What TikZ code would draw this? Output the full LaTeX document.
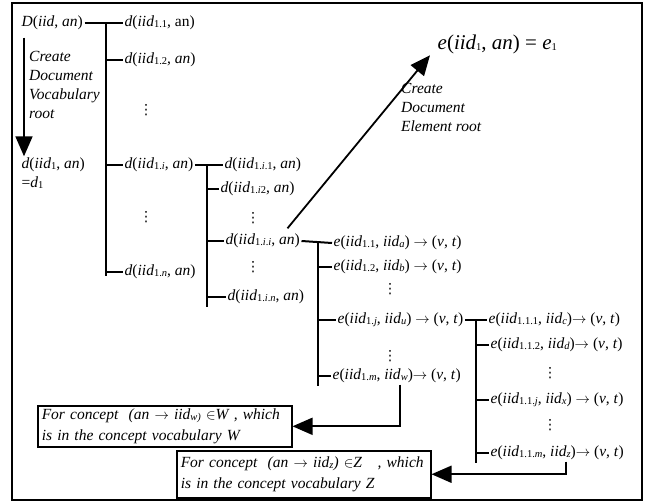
\documentclass[tikz,border=0pt]{standalone}
\usepackage{fontspec}
\setmainfont{Liberation Serif}
\newfontfamily\symfont{DejaVu Sans}
\usetikzlibrary{arrows.meta}
% italic variable and small lowered index
\newcommand\iv[1]{\textit{#1}}
\newcommand\sbx[1]{\raisebox{-1.2pt}{\fontsize{10.5}{10.5}\selectfont #1}}
\newcommand\rarr{\ensuremath{\rightarrow}}
\newcommand\vdotsym{{\symfont ⋮}}

\begin{document}
\begin{tikzpicture}[x=1pt,y=-1pt,
  lbl/.style={anchor=west, inner sep=1.5pt, text height=10.5pt, text depth=3.5pt,
              font=\fontsize{15.5}{18}\selectfont},
  note/.style={anchor=north west, align=left, inner sep=0pt,
               font=\fontsize{15.5}{19}\selectfont\itshape},
  vdot/.style={inner sep=0pt, font=\fontsize{14}{14}\selectfont},
  tree/.style={line width=2pt},
  bigarrow/.style={line width=1.8pt, -{Triangle[length=20pt,width=17pt]}},
  conceptbox/.style={draw, line width=1.5pt, anchor=north west, align=left,
                     inner xsep=4pt, inner ysep=3pt,
                     font=\fontsize{15.5}{21}\selectfont\itshape}
]
\useasboundingbox (0,0) rectangle (647,502);
\draw[line width=2pt] (12,3) rectangle (642,500);

% x positions of the tree trunks and vertical arrows
\coordinate (t1) at (106,0);
\coordinate (t2) at (207,0);
\coordinate (t3) at (318,0);
\coordinate (t4) at (476,0);
\coordinate (a0) at (24,0);
\coordinate (aw) at (400,0);
\coordinate (az) at (566,0);

% document vocabulary root
\node[lbl] (D)  at (20,23)  {\iv{D}(\iv{iid}, \iv{an})};
\node[lbl] (d1) at (20,165) {\iv{d}(\iv{iid}\sbx{1}, \iv{an})};
\node[lbl] (d1eq) at (20,184) {=\iv{d}\sbx{1}};
\node[note] (cv) at (29,51) {Create\\Document\\Vocabulary\\root};

% first level
\node[lbl] (c11) at (123,23)  {\iv{d}(\iv{iid}\sbx{1.1}, an)};
\node[lbl] (c12) at (123,60)  {\iv{d}(\iv{iid}\sbx{1.2}, \iv{an})};
\node[vdot] (v1) at (146,110) {\vdotsym};
\node[lbl] (c1i) at (123,165) {\iv{d}(\iv{iid}\sbx{1.\iv{i}}, \iv{an})};
\node[vdot] (v2) at (146,217) {\vdotsym};
\node[lbl] (c1n) at (123,272) {\iv{d}(\iv{iid}\sbx{1.\iv{n}}, \iv{an})};

% second level
\node[lbl] (c1i1) at (223,165) {\iv{d}(\iv{iid}\sbx{1.\iv{i}.1}, \iv{an})};
\node[lbl] (c1i2) at (219,189) {\iv{d}(\iv{iid}\sbx{1.\iv{i}2}, \iv{an})};
\node[vdot] (v3) at (253,218) {\vdotsym};
\node[lbl] (c1ii) at (224,241) {\iv{d}(\iv{iid}\sbx{1.\iv{i}.\iv{i}}, \iv{an})};
\node[vdot] (v4) at (253,267) {\vdotsym};
\node[lbl] (c1in) at (226,297) {\iv{d}(\iv{iid}\sbx{1.\iv{i}.\iv{n}}, \iv{an})};

% element root
\node[anchor=west, inner sep=1.5pt, font=\fontsize{21}{24}\selectfont]
  (e1) at (436,44) {\iv{e}(\iv{iid}\sbx{1}, \iv{an}) = \iv{e}\sbx{1}};
\node[note] (ce) at (401,83) {Create\\Document\\Element root};

% elements
\node[lbl] (e11) at (332,243) {\iv{e}(\iv{iid}\sbx{1.1}, \iv{iid}\sbx{\iv{a}}) \rarr\ (\iv{v}, \iv{t})};
\node[lbl] (e12) at (332,267) {\iv{e}(\iv{iid}\sbx{1.2}, \iv{iid}\sbx{\iv{b}}) \rarr\ (\iv{v}, \iv{t})};
\node[vdot] (v5) at (390,289) {\vdotsym};
\node[lbl] (e1j) at (336,320) {\iv{e}(\iv{iid}\sbx{1.\iv{j}}, \iv{iid}\sbx{\iv{u}}) \rarr\ (\iv{v}, \iv{t})};
\node[vdot] (v6) at (390,356) {\vdotsym};
\node[lbl] (e1m) at (331,376) {\iv{e}(\iv{iid}\sbx{1.\iv{m}}, \iv{iid}\sbx{\iv{w}})\rarr\ (\iv{v}, \iv{t})};

% sub-elements
\node[lbl] (e111) at (487,320) {\iv{e}(\iv{iid}\sbx{1.1.1}, \iv{iid}\sbx{\iv{c}})\rarr\ (\iv{v}, \iv{t})};
\node[lbl] (e112) at (489,345) {\iv{e}(\iv{iid}\sbx{1.1.2}, \iv{iid}\sbx{\iv{d}})\rarr\ (\iv{v}, \iv{t})};
\node[vdot] (v7) at (550,373) {\vdotsym};
\node[lbl] (e11j) at (489,400) {\iv{e}(\iv{iid}\sbx{1.1.\iv{j}}, \iv{iid}\sbx{\iv{x}}) \rarr\ (\iv{v}, \iv{t})};
\node[vdot] (v8) at (550,425) {\vdotsym};
\node[lbl] (e11m) at (489,453) {\iv{e}(\iv{iid}\sbx{1.1.\iv{m}}, \iv{iid}\sbx{\iv{z}})\rarr\ (\iv{v}, \iv{t})};

% concept boxes
\node[conceptbox, text width=246pt, minimum height=40pt] (boxW) at (37,405)
  {For concept \ (an \rarr\ iid\sbx{w)} $\in$W , which\\is in the concept vocabulary W};
\node[conceptbox, text width=246pt, minimum height=47pt] (boxZ) at (176,450)
  {For concept \ (an \rarr\ iid\sbx{z}) $\in$Z \ \ , which\\is in the concept vocabulary Z};

% tree 1
\draw[tree] (D.east) -- (c11.west);
\draw[tree] (c11.west -| t1) -- ([yshift=-4pt]c1n.west -| t1);
\foreach \n in {c12,c1i,c1n} \draw[tree] (\n.west -| t1) -- (\n.west);
% tree 2
\draw[tree] (c1i.east) -- (c1i1.west);
\draw[tree] (c1i1.west -| t2) -- ([yshift=-10pt]c1in.west -| t2);
\foreach \n in {c1i2,c1ii,c1in} \draw[tree] (\n.west -| t2) -- (\n.west);
% tree 3
\draw[tree] (c1ii.east) -- (e11.west);
\draw[tree] (e11.west -| t3) -- ([yshift=-10pt]e1m.west -| t3);
\foreach \n in {e12,e1j,e1m} \draw[tree] (\n.west -| t3) -- (\n.west);
% tree 4
\draw[tree] (e1j.east) -- (e111.west);
\draw[tree] (e111.west -| t4) -- ([yshift=-10pt]e11m.west -| t4);
\foreach \n in {e112,e11j,e11m} \draw[tree] (\n.west -| t4) -- (\n.west);

% creation arrows
\draw[bigarrow] ([yshift=-6pt]D.south -| a0) -- (d1.north -| a0);
\draw[bigarrow] ([shift={(-14,-4)}]c1ii.north east) -- ([xshift=-6pt]e1.south west);

% concept arrows
\draw[bigarrow] (e1m.south -| aw) |- (boxW.east);
\draw[bigarrow] (e11m.south -| az) |- (boxZ.east);
\end{tikzpicture}
\end{document}
